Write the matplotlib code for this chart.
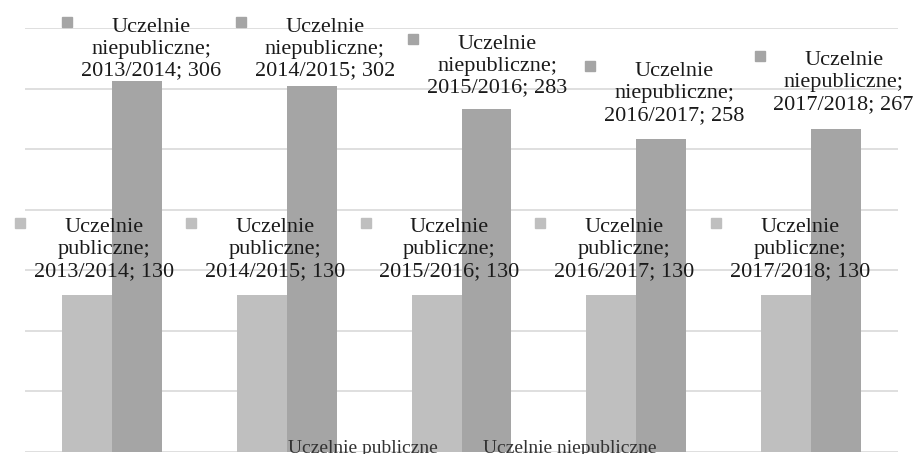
import matplotlib.pyplot as plt
import numpy as np
from matplotlib.transforms import offset_copy

years = ['2013/2014', '2014/2015', '2015/2016', '2016/2017', '2017/2018']
publiczne = [130, 130, 130, 130, 130]
niepubliczne = [306, 302, 283, 258, 267]
series_names = ['Uczelnie publiczne', 'Uczelnie niepubliczne']

# label offsets from bar top in pixels (dx, dy up)
off_pub = [(17, 45), (13, 45), (13, 45), (13, 45), (14, 45)]
off_np = [(14, 32), (13, 37), (11, 43), (13, 46), (8, 46)]

c_pub = '#bfbfbf'
c_np = '#a5a5a5'

plt.rcParams['font.family'] = ['Liberation Serif', 'DejaVu Serif']

fig = plt.figure(figsize=(9.15, 4.54), dpi=100)
ax = fig.add_axes([25 / 915, 2 / 454, 873 / 915, 424 / 454])

x = np.arange(len(years))
w = 0.286
ax.bar(x - w / 2, publiczne, w, color=c_pub, zorder=2, label=series_names[0])
ax.bar(x + w / 2, niepubliczne, w, color=c_np, zorder=2, label=series_names[1])

ax.set_xlim(-0.5, len(years) - 0.5)
ax.set_ylim(0, 350)
ax.set_yticks(np.arange(0, 351, 50))
ax.yaxis.grid(True, color='#d9d9d9', linewidth=1.2, zorder=0)
ax.tick_params(left=False, bottom=False, labelleft=False, labelbottom=False)
for s in ax.spines.values():
    s.set_visible(False)


def data_label(xv, yv, dx, dy, name, year, val, color):
    tr = offset_copy(ax.transData, fig=fig, x=dx, y=dy, units='dots')
    ax.text(xv, yv, f'{name.split()[0]}\n{name.split()[1]};\n{year}; {val}',
            transform=tr, ha='center', va='center', fontsize=16,
            linespacing=1.2, color='#1a1a1a', zorder=5, clip_on=False)
    tr2 = offset_copy(ax.transData, fig=fig, x=dx - 84, y=dy + 27, units='dots')
    ax.plot([xv], [yv], 's', ms=7, color=color, transform=tr2,
            zorder=5, clip_on=False)


for i in range(len(years)):
    data_label(x[i] - w / 2, publiczne[i], off_pub[i][0], off_pub[i][1],
               series_names[0], years[i], publiczne[i], c_pub)
    data_label(x[i] + w / 2, niepubliczne[i], off_np[i][0], off_np[i][1],
               series_names[1], years[i], niepubliczne[i], c_np)

# legend keys sit on bars of the same colour, so they don't show
leg = ax.legend(loc='lower center', bbox_to_anchor=(0.5, -0.053), ncol=2,
                frameon=False, fontsize=14, handlelength=0.6, handleheight=0.6,
                handletextpad=0.5, columnspacing=1.2)
for h in leg.legend_handles:
    h.set_alpha(0)
for t in leg.get_texts():
    t.set_color('#333333')

fig.savefig('out.png', dpi=100)
